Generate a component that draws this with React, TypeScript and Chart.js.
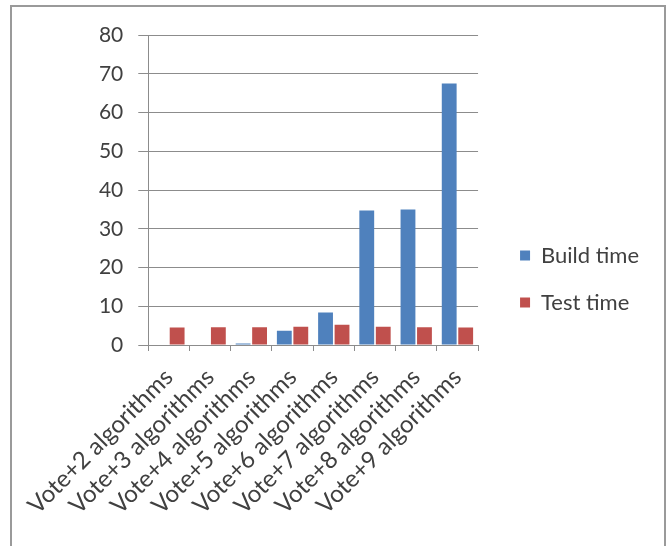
import React, { useEffect, useRef } from "react";
import { Chart, registerables } from "chart.js";

Chart.register(...registerables);

const categories = [
  "Vote+2 algorithms",
  "Vote+3 algorithms",
  "Vote+4 algorithms",
  "Vote+5 algorithms",
  "Vote+6 algorithms",
  "Vote+7 algorithms",
  "Vote+8 algorithms",
  "Vote+9 algorithms",
];
const buildTime = [0, 0, 0.4, 3.7, 8.4, 34.7, 35.0, 67.5];
const testTime = [4.5, 4.6, 4.6, 4.7, 5.2, 4.7, 4.6, 4.5];
const yTicks = [0, 10, 20, 30, 40, 50, 60, 70, 80];

const FONT = "Lato, 'Open Sans', sans-serif";
const TEXT = "#404040";
const AXIS = "#8c8c8c";

export default function App() {
  const ref = useRef<HTMLCanvasElement | null>(null);

  useEffect(() => {
    if (!ref.current) return;
    const chart = new Chart(ref.current, {
      type: "bar",
      data: {
        labels: categories,
        datasets: [
          { label: "Build time", data: buildTime, backgroundColor: "#4F81BD", borderWidth: 0 },
          { label: "Test time", data: testTime, backgroundColor: "#C0504D", borderWidth: 0 },
        ],
      },
      options: {
        animation: false,
        responsive: true,
        maintainAspectRatio: false,
        layout: { padding: { top: 28, bottom: 23, left: 0, right: 15 } },
        plugins: {
          tooltip: { enabled: false },
          legend: {
            position: "right",
            align: "center",
            maxWidth: 220,
            labels: {
              boxWidth: 10,
              boxHeight: 10,
              padding: 25,
              color: TEXT,
              font: { family: FONT, size: 22 },
            },
          } as any,
        },
        scales: {
          x: {
            grid: {
              display: true,
              offset: true,
              drawOnChartArea: false,
              drawTicks: true,
              tickLength: 6,
              color: AXIS,
            },
            border: { display: true, color: AXIS },
            ticks: {
              autoSkip: false,
              minRotation: 45,
              maxRotation: 45,
              padding: 12,
              color: TEXT,
              font: { family: FONT, size: 24 },
            },
            categoryPercentage: 0.571,
            barPercentage: 1,
            afterFit: (s: any) => {
              s.height = 178;
            },
          } as any,
          y: {
            min: 0,
            max: 80,
            afterBuildTicks: (s: any) => {
              s.ticks = yTicks.map((v) => ({ value: v }));
            },
            grid: { color: AXIS, tickLength: 10 },
            border: { display: true, color: AXIS },
            ticks: {
              padding: 15,
              color: TEXT,
              font: { family: FONT, size: 21 },
            },
            afterFit: (s: any) => {
              s.width = 133;
            },
          },
          gap: {
            type: "linear",
            position: "right",
            display: true,
            grid: { display: false },
            border: { display: false },
            ticks: { display: false },
            afterFit: (s: any) => {
              s.width = 17;
            },
          },
        },
      },
    });
    return () => chart.destroy();
  }, []);

  return (
    <div
      style={{
        position: "fixed",
        left: 0,
        top: 0,
        width: 669,
        height: 546,
        overflow: "hidden",
        background: "#ffffff",
      }}
    >
      <div
        style={{
          position: "absolute",
          left: 10,
          top: 5,
          width: 652,
          height: 600,
          border: "2px solid #9a9a9a",
          background: "#ffffff",
        }}
      >
        <div style={{ position: "absolute", left: 0, top: 0, width: 652, height: 539 }}>
          <canvas ref={ref} />
        </div>
      </div>
    </div>
  );
}
